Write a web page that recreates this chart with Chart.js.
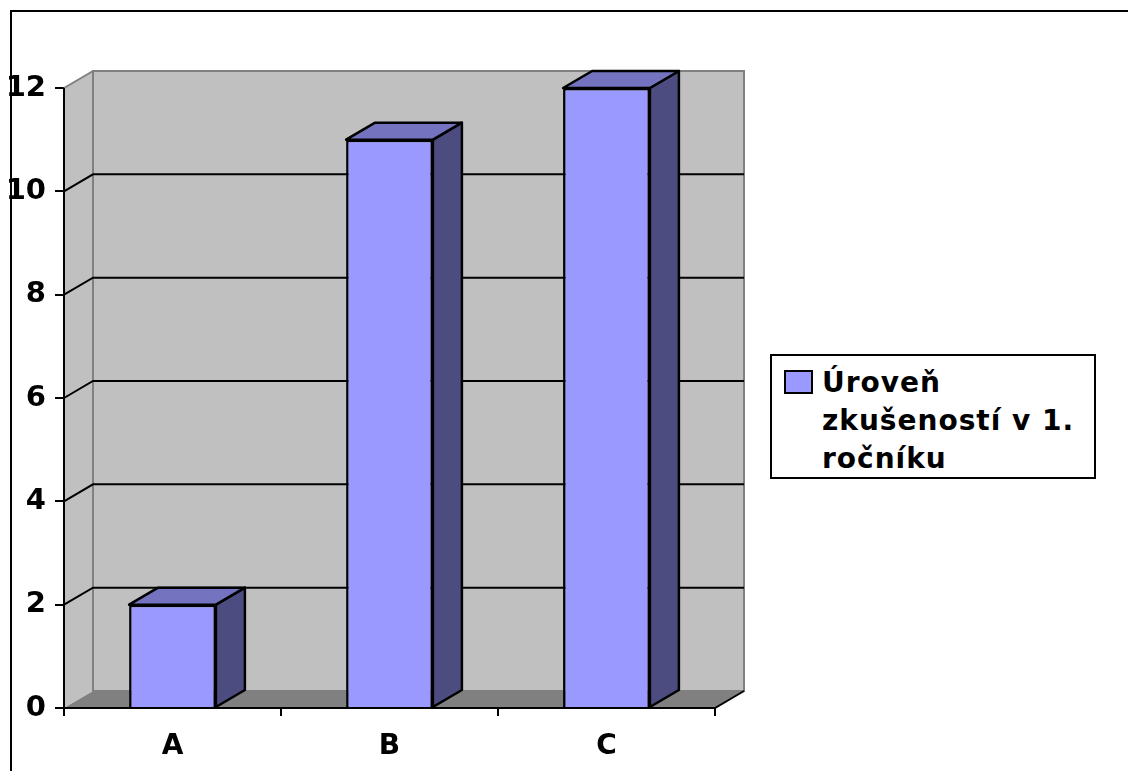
<!DOCTYPE html>
<html>
<head>
<meta charset="utf-8">
<script src="https://cdn.jsdelivr.net/npm/chart.js@4.4.0/dist/chart.umd.min.js"></script>
<style>
    html, body { margin: 0; padding: 0; background: #fff; }
    #wrap { position: relative; width: 1128px; height: 771px; }
    #legend {
        position: absolute; left: 770px; top: 354px; width: 326px; height: 125px;
        border: 2px solid #000; background: #fff; box-sizing: border-box;
        font-family: "DejaVu Sans", sans-serif; font-weight: bold; font-size: 28px; line-height: 38px;
        letter-spacing: 1px;
    }
    #legend .swatch {
        position: absolute; left: 12px; top: 14px; width: 29px; height: 24px;
        background: #9999ff; border: 2px solid #000; box-sizing: border-box;
    }
    #legend .text { position: absolute; left: 50px; top: 8px; white-space: nowrap; }
</style>
</head>
<body>
<div id="wrap">
    <canvas id="graph1" width="1128" height="771"></canvas>
    <div id="legend"><div class="swatch"></div><div class="text" id="legendText"></div></div>
</div>
<script>
const categorias = ['A', 'B', 'C'];
const valores = [2, 11, 12];
const nombreSerie = 'Úroveň zkušeností v 1. ročníku';
const lineasLeyenda = ['Úroveň', 'zkušeností v 1.', 'ročníku'];

// profundidad del efecto 3D
const DX = 29, DY = 17;

const fondo3D = {
    id: 'fondo3D',
    beforeDraw(chart) {
        const ctx = chart.ctx;
        ctx.save();
        // marco exterior
        ctx.strokeStyle = '#000';
        ctx.lineWidth = 2;
        ctx.beginPath();
        ctx.moveTo(11, 771);
        ctx.lineTo(11, 11);
        ctx.lineTo(1128, 11);
        ctx.stroke();
        ctx.restore();
    },
    beforeDatasetsDraw(chart) {
        const { ctx, chartArea: a, scales: { y } } = chart;
        ctx.save();
        // pared trasera
        ctx.fillStyle = '#c0c0c0';
        ctx.fillRect(a.left + DX, a.top - DY, a.right - a.left, a.bottom - a.top);
        // pared lateral
        ctx.beginPath();
        ctx.moveTo(a.left, a.top);
        ctx.lineTo(a.left + DX, a.top - DY);
        ctx.lineTo(a.left + DX, a.bottom - DY);
        ctx.lineTo(a.left, a.bottom);
        ctx.closePath();
        ctx.fill();
        // piso
        ctx.fillStyle = '#808080';
        ctx.beginPath();
        ctx.moveTo(a.left, a.bottom);
        ctx.lineTo(a.left + DX, a.bottom - DY);
        ctx.lineTo(a.right + DX, a.bottom - DY);
        ctx.lineTo(a.right, a.bottom);
        ctx.closePath();
        ctx.fill();
        // bordes de las paredes
        ctx.strokeStyle = '#808080';
        ctx.lineWidth = 2;
        ctx.strokeRect(a.left + DX, a.top - DY, a.right - a.left, a.bottom - a.top);
        ctx.beginPath();
        ctx.moveTo(a.left, a.top);
        ctx.lineTo(a.left + DX, a.top - DY);
        ctx.stroke();
        // lineas de cuadricula
        ctx.strokeStyle = '#000';
        ctx.lineWidth = 2;
        y.ticks.forEach(t => {
            if (t.value <= y.min || t.value >= y.max) return;
            const py = y.getPixelForValue(t.value);
            ctx.beginPath();
            ctx.moveTo(a.left, py);
            ctx.lineTo(a.left + DX, py - DY);
            ctx.lineTo(a.right + DX, py - DY);
            ctx.stroke();
        });
        // ejes
        ctx.lineWidth = 2;
        ctx.beginPath();
        ctx.moveTo(a.left, a.top);
        ctx.lineTo(a.left, a.bottom);
        ctx.lineTo(a.right, a.bottom);
        ctx.lineTo(a.right + DX, a.bottom - DY);
        ctx.stroke();
        ctx.restore();
    },
    afterDatasetsDraw(chart) {
        const ctx = chart.ctx;
        ctx.save();
        ctx.strokeStyle = '#000';
        ctx.lineWidth = 2.5;
        ctx.lineJoin = 'round';
        chart.getDatasetMeta(0).data.forEach(bar => {
            const p = bar.getProps(['x', 'y', 'base', 'width'], true);
            const l = p.x - p.width / 2, r = p.x + p.width / 2;
            // cara lateral
            ctx.fillStyle = '#4c4c80';
            ctx.beginPath();
            ctx.moveTo(r, p.y);
            ctx.lineTo(r + DX, p.y - DY);
            ctx.lineTo(r + DX, p.base - DY);
            ctx.lineTo(r, p.base);
            ctx.closePath();
            ctx.fill();
            ctx.stroke();
            // cara superior
            ctx.fillStyle = '#7373bf';
            ctx.beginPath();
            ctx.moveTo(l, p.y);
            ctx.lineTo(l + DX, p.y - DY);
            ctx.lineTo(r + DX, p.y - DY);
            ctx.lineTo(r, p.y);
            ctx.closePath();
            ctx.fill();
            ctx.stroke();
        });
        ctx.restore();
    }
};

function generateChart() {
    const ctx = document.getElementById('graph1').getContext('2d');
    new Chart(ctx, {
        type: 'bar',
        data: {
            labels: categorias,
            datasets: [{
                label: nombreSerie,
                data: valores,
                backgroundColor: '#9999ff',
                borderColor: '#000',
                borderWidth: 2.5,
                barPercentage: 0.4,
                categoryPercentage: 1
            }]
        },
        options: {
            responsive: false,
            animation: false,
            layout: { padding: { top: 88, right: 413, left: 0, bottom: 0 } },
            plugins: {
                legend: { display: false },
                tooltip: { enabled: false }
            },
            scales: {
                y: {
                    min: 0,
                    max: 12,
                    ticks: {
                        stepSize: 2,
                        color: '#000',
                        padding: 9,
                        font: { family: 'DejaVu Sans', weight: 'bold', size: 29 }
                    },
                    grid: { drawOnChartArea: false, tickLength: 9, color: '#000', lineWidth: 2 },
                    border: { display: false },
                    afterFit: s => { s.width = 64; }
                },
                x: {
                    ticks: {
                        color: '#000',
                        padding: 14,
                        font: { family: 'DejaVu Sans', weight: 'bold', size: 28 }
                    },
                    grid: { drawOnChartArea: false, tickLength: 8, color: '#000', lineWidth: 2 },
                    border: { display: false },
                    afterFit: s => { s.height = 63; }
                }
            }
        },
        plugins: [fondo3D]
    });
}

document.addEventListener('DOMContentLoaded', function () {
    document.getElementById('legendText').innerHTML = lineasLeyenda.join('<br>');
    generateChart();
});
</script>
</body>
</html>
